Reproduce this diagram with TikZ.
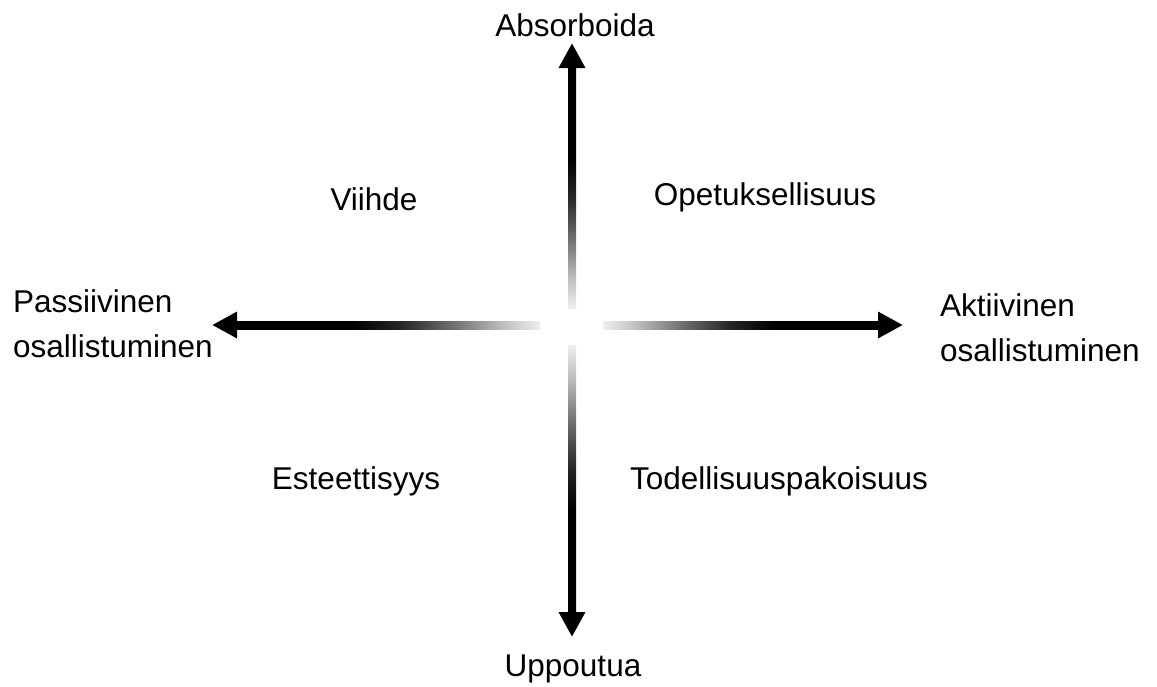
\documentclass[tikz,border=0pt]{standalone}
\usepackage{fontspec}
\setmainfont{Liberation Sans}
\usepackage{tikz}
\usetikzlibrary{arrows.meta,calc}
\definecolor{cFade}{RGB}{238,238,238}
\pgfdeclarehorizontalshading{fadeH}{100bp}{color(0bp)=(black); color(25bp)=(black);
  color(44bp)=(black); color(52bp)=(black!85); color(61bp)=(black!55);
  color(69bp)=(black!25); color(75bp)=(cFade); color(100bp)=(cFade)}
\pgfdeclareverticalshading{fadeV}{100bp}{color(0bp)=(cFade); color(25bp)=(cFade);
  color(31bp)=(black!25); color(39bp)=(black!55); color(48bp)=(black!85);
  color(56bp)=(black); color(100bp)=(black)}
\tikzset{
  lbl/.style={font=\fontsize{31.5}{45}\selectfont,inner sep=0pt},
  sidelbl/.style={lbl,align=left,anchor=north west},
  arr/.style={-{Triangle[length=25pt,width=25pt]},line width=8pt,black}
}
\begin{document}
\begin{tikzpicture}[x=1pt,y=-1pt]
  \useasboundingbox (0,0) rectangle (1157,686);

  % axis labels
  \node[lbl,anchor=base] (abs) at (575,36) {Absorboida};
  \node[lbl,anchor=base] (upp) at (573,676) {Uppoutua};
  \node[sidelbl] (pass) at (13,289) {Passiivinen\\osallistuminen};
  \node[sidelbl] (akt) at (940,293) {Aktiivinen\\osallistuminen};

  % quadrant labels
  \node[lbl,anchor=base] (viihde) at (374,210) {Viihde};
  \node[lbl,anchor=base] (opet) at (765,205) {Opetuksellisuus};
  \node[lbl,anchor=base] (este) at (356,489) {Esteettisyys};
  \node[lbl,anchor=base] (todel) at (779,489) {Todellisuuspakoisuus};

  % arrow ends: tip, start of head, faded end
  \coordinate (tN) at (572,43);  \coordinate (hN) at (572,70);  \coordinate (fN) at (572,308);
  \coordinate (tS) at (572,637); \coordinate (hS) at (572,610); \coordinate (fS) at (572,345);
  \coordinate (tW) at (212,325); \coordinate (hW) at (239,325); \coordinate (fW) at (540,325);
  \coordinate (tE) at (903,325); \coordinate (hE) at (876,325); \coordinate (fE) at (603,325);

  % shafts, black near the head and fading towards the centre
  \shade[shading=fadeV] ($(hN)+(-4,-2)$) rectangle ($(fN)+(4,0)$);
  \shade[shading=fadeV,shading angle=180] ($(fS)+(-4,0)$) rectangle ($(hS)+(4,2)$);
  \shade[shading=fadeH] ($(hW)+(-2,-4)$) rectangle ($(fW)+(0,4)$);
  \shade[shading=fadeH,shading angle=180] ($(fE)+(0,-4)$) rectangle ($(hE)+(2,4)$);

  \foreach \f/\t in {hN/tN,hS/tS,hW/tW,hE/tE}
    \draw[arr] (\f) -- (\t);

\end{tikzpicture}
\end{document}
